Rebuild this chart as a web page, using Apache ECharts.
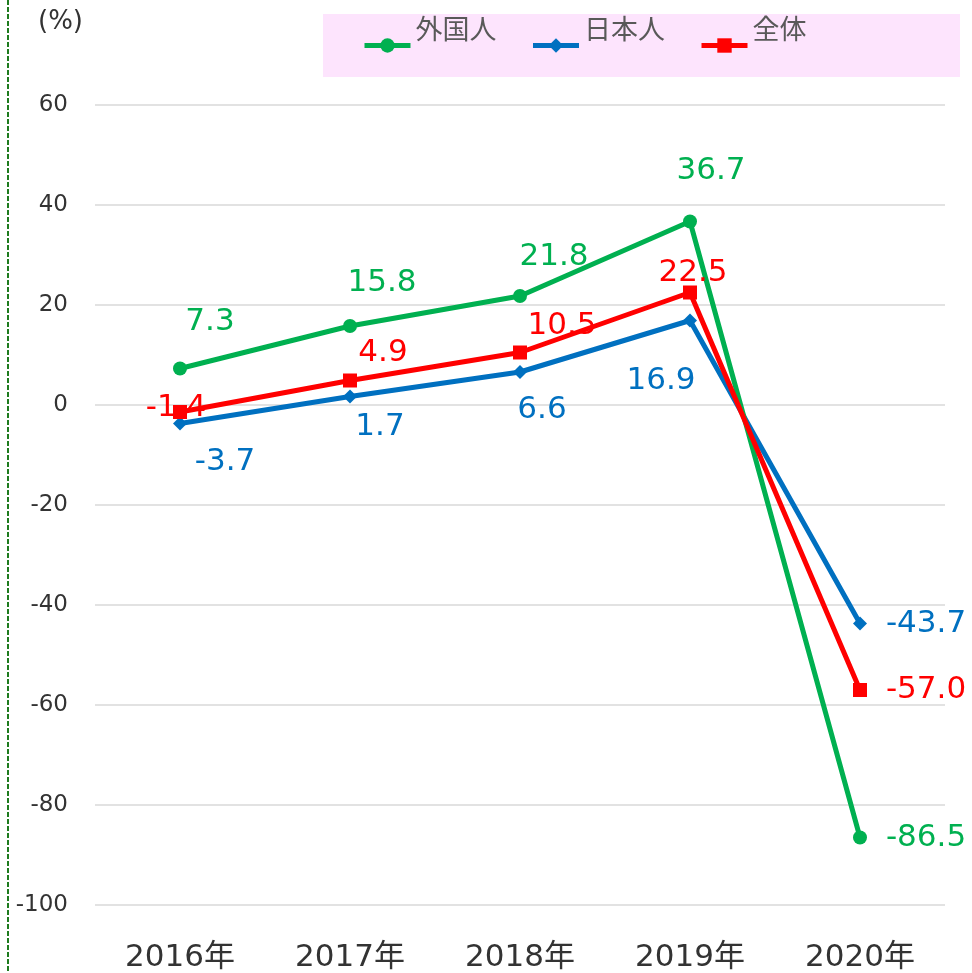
<!DOCTYPE html>
<html>
<head>
<meta charset="utf-8">
<script src="https://cdn.jsdelivr.net/npm/echarts@6/dist/echarts.min.js"></script>
<style>
  html, body { margin: 0; padding: 0; background: #fff; }
  #chart { width: 972px; height: 973px; }
</style>
</head>
<body>
<div id="chart"></div>
<script>
// Year-on-year change (%), by visitor group
const categories = ['2016年', '2017年', '2018年', '2019年', '2020年'];
const seriesNames = ['外国人', '日本人', '全体'];
const foreignValues = [7.3, 15.8, 21.8, 36.7, -86.5];
const japaneseValues = [-3.7, 1.7, 6.6, 16.9, -43.7];
const totalValues = [-1.4, 4.9, 10.5, 22.5, -57.0];
const yTicks = { min: -100, max: 60, step: 20 };

// Label placement per point (offset of the label centre from the marker)
const foreignOffsets = [[30, -47], [32, -43], [34, -39], [21, -51], [66, 0]];
const japaneseOffsets = [[45, 38], [30, 30], [22, 38], [-29, 60], [66, 0]];
const totalOffsets = [[-4, -4], [33, -28], [42, -27], [3, -20], [66, 0]];

const numFont = 'DejaVu Sans, Verdana, sans-serif';
const cjkFont = 'DejaVu Sans, Noto Sans CJK JP, sans-serif';

function withLabels(values, offsets, color) {
  return values.map((v, i) => ({
    value: v,
    label: {
      show: true,
      position: 'inside',
      offset: offsets[i],
      color: color,
      fontSize: 31,
      fontFamily: numFont,
      formatter: (p) => p.value.toFixed(1)
    }
  }));
}

const green = '#00B050';
const blue = '#0070C0';
const red = '#FF0000';

const chart = echarts.init(document.getElementById('chart'), null, { renderer: 'canvas' });
chart.setOption({
  animation: false,
  backgroundColor: '#fff',
  grid: { left: 95, right: 27, top: 105, bottom: 67, containLabel: false },
  graphic: [
    {
      type: 'rect',
      shape: { x: 323, y: 14, width: 637, height: 63 },
      style: { fill: '#FDE4FD' },
      z: -1
    },
    {
      type: 'line',
      shape: { x1: 8, y1: 0, x2: 8, y2: 973 },
      style: { stroke: '#1E7B1E', lineWidth: 2, lineDash: [5, 2] }
    },
    {
      type: 'text',
      x: 38, y: 9,
      style: { text: '(%)', font: '26px "DejaVu Sans", sans-serif', fill: '#333' }
    }
  ],
  legend: {
    data: seriesNames,
    left: 357, top: 13,
    itemWidth: 46, itemHeight: 18,
    itemGap: 34,
    lineStyle: { width: 5 },
    formatter: (name) => '{t|' + name + '}',
    textStyle: {
      fontSize: 27, color: '#595959', fontFamily: cjkFont,
      rich: {
        t: {
          fontSize: 27, color: '#595959', fontFamily: cjkFont,
          padding: [0, 0, 28, 0]
        }
      }
    }
  },
  xAxis: {
    type: 'category',
    data: categories,
    boundaryGap: true,
    axisLine: { show: false },
    axisTick: { show: false },
    axisLabel: { fontSize: 31, color: '#333', fontFamily: cjkFont, margin: 37 }
  },
  yAxis: {
    type: 'value',
    min: yTicks.min, max: yTicks.max, interval: yTicks.step,
    axisLine: { show: false },
    axisTick: { show: false },
    splitLine: { lineStyle: { color: '#D9D9D9', width: 1.5 } },
    axisLabel: { fontSize: 23, color: '#333', fontFamily: numFont, margin: 27 }
  },
  series: [
    {
      name: seriesNames[0], type: 'line',
      data: withLabels(foreignValues, foreignOffsets, green),
      symbol: 'circle', symbolSize: 14,
      lineStyle: { color: green, width: 5 },
      itemStyle: { color: green },
      z: 3
    },
    {
      name: seriesNames[1], type: 'line',
      data: withLabels(japaneseValues, japaneseOffsets, blue),
      symbol: 'diamond', symbolSize: 14,
      lineStyle: { color: blue, width: 5 },
      itemStyle: { color: blue },
      z: 2
    },
    {
      name: seriesNames[2], type: 'line',
      data: withLabels(totalValues, totalOffsets, red),
      symbol: 'rect', symbolSize: 14,
      lineStyle: { color: red, width: 5 },
      itemStyle: { color: red },
      z: 4
    }
  ]
});
</script>
</body>
</html>
